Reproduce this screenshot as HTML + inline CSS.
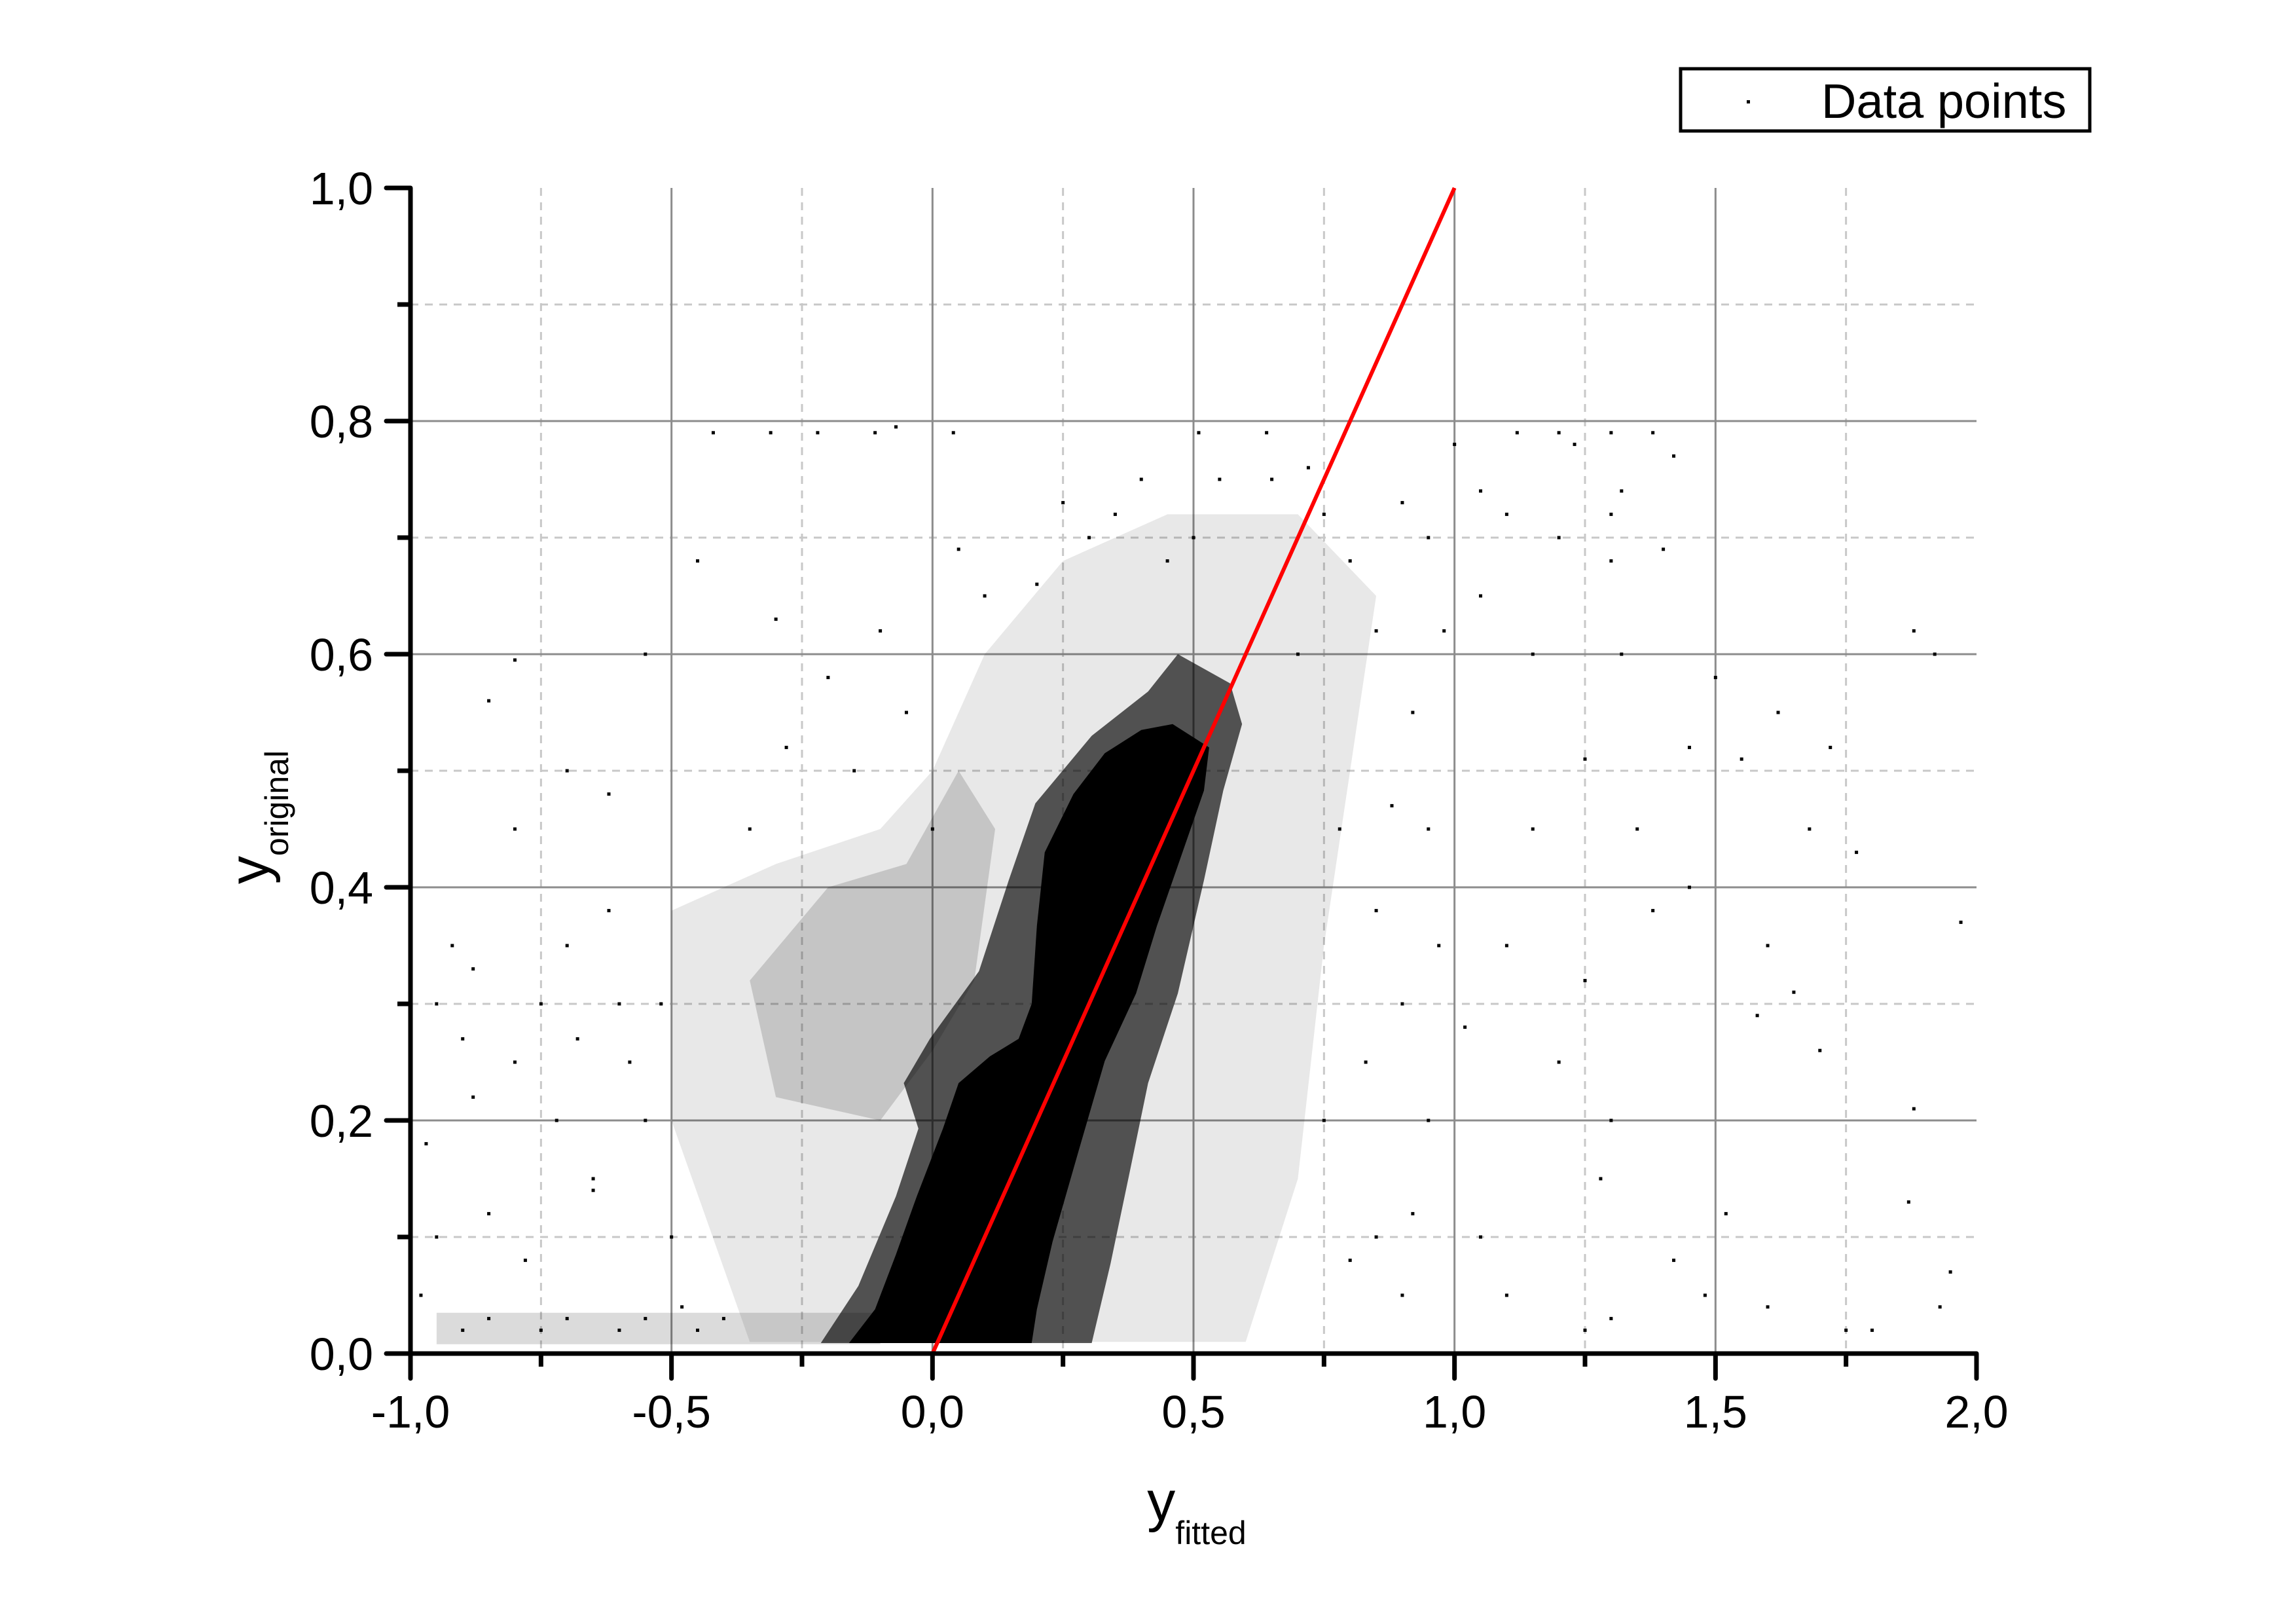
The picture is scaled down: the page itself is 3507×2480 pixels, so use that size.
<!DOCTYPE html>
<html><head><meta charset="utf-8"><style>html,body{margin:0;padding:0;background:#fff}svg{display:block}</style></head>
<body>
<svg id="chart" xmlns="http://www.w3.org/2000/svg" width="3507" height="2480" viewBox="0 0 3507 2480" font-family="Liberation Sans, sans-serif">
<rect width="3507" height="2480" fill="#fff"/>
<g id="grid"></g>
<g id="density"></g>
<g id="points"></g>
<g id="fit"></g>
<g id="axes"></g>
<text transform="translate(410,1248) rotate(-90)" text-anchor="middle" font-size="86">y<tspan font-size="50" dy="30">original</tspan></text>
<text x="1828" y="2322" text-anchor="middle" font-size="86">y<tspan font-size="50" dy="36">fitted</tspan></text>
<g>
<rect x="2567" y="105" width="625" height="95" fill="#fff" stroke="#000" stroke-width="5"/>
<rect x="2668" y="153" width="5" height="5" fill="#000"/>
<text x="2782" y="180" font-size="74">Data points</text>
</g>
</svg>
<script>
const xTicks = [-1, -0.5, 0, 0.5, 1, 1.5, 2];
const xTickLabels = ["-1,0", "-0,5", "0,0", "0,5", "1,0", "1,5", "2,0"];
const xMinor = [-0.75, -0.25, 0.25, 0.75, 1.25, 1.75];
const yTicks = [0, 0.2, 0.4, 0.6, 0.8, 1.0];
const yTickLabels = ["0,0", "0,2", "0,4", "0,6", "0,8", "1,0"];
const yMinor = [0.1, 0.3, 0.5, 0.7, 0.9];
const fitLine = [[0, 0], [1, 1]];
const coreRegion = [[-0.16,0.009],[-0.11,0.038],[-0.07,0.085],[-0.03,0.135],[0.02,0.193],[0.05,0.232],[0.11,0.255],[0.165,0.27],[0.19,0.300],[0.20,0.367],[0.215,0.43],[0.27,0.48],[0.33,0.515],[0.40,0.535],[0.46,0.54],[0.53,0.52],[0.52,0.483],[0.475,0.425],[0.43,0.367],[0.39,0.309],[0.33,0.251],[0.28,0.174],[0.23,0.096],[0.20,0.038],[0.19,0.009]];
const haloRegion = [[-0.214,0.009],[-0.142,0.058],[-0.070,0.135],[-0.027,0.193],[-0.055,0.232],[-0.005,0.270],[0.089,0.328],[0.146,0.406],[0.197,0.472],[0.305,0.530],[0.413,0.568],[0.470,0.600],[0.570,0.575],[0.593,0.540],[0.557,0.483],[0.520,0.406],[0.470,0.309],[0.413,0.232],[0.377,0.154],[0.341,0.077],[0.305,0.009]];
const fanRegion = [[-0.3,0.22],[-0.35,0.32],[-0.2,0.4],[-0.05,0.42],[0.05,0.5],[0.12,0.45],[0.08,0.32],[0.0,0.26],[-0.1,0.2]];
const lightRegion = [[-0.35,0.01],[-0.5,0.2],[-0.5,0.38],[-0.3,0.42],[-0.1,0.45],[0.0,0.5],[0.1,0.6],[0.25,0.68],[0.45,0.72],[0.7,0.72],[0.85,0.65],[0.8,0.5],[0.75,0.35],[0.7,0.15],[0.6,0.01]];
const bottomBand = [[-0.95,0.008],[-0.95,0.035],[-0.1,0.035],[-0.1,0.008]];
const pointsX = [-0.42,-0.31,-0.22,-0.11,-0.07,0.04,0.51,0.64,0.72,1.0,1.12,1.2,1.23,1.3,1.38,1.42,-0.8,
1.05,1.1,1.2,1.3,1.32,1.3,1.4,1.05,1.15,1.25,1.32,1.45,1.5,1.55,1.62,1.72,1.88,1.92,1.97,1.88,1.87,1.95,1.93,1.75,1.7,1.65,1.6,1.58,1.52,1.48,1.42,1.38,1.3,1.28,1.2,1.25,1.1,1.05,1.02,1.15,1.35,1.45,1.1,1.3,1.6,1.77,1.68,1.8,1.25,
0.65,0.75,0.9,0.95,0.85,0.92,0.95,0.85,0.9,0.95,0.85,0.9,0.8,0.75,0.7,0.8,0.98,0.88,0.83,0.92,0.97,0.78,
-0.95,-0.92,-0.88,-0.9,-0.97,-0.95,-0.85,-0.8,-0.75,-0.72,-0.7,-0.68,-0.65,-0.6,-0.62,-0.58,-0.55,-0.52,-0.5,-0.48,-0.85,-0.9,-0.75,-0.7,-0.6,-0.55,-0.45,-0.4,-0.8,-0.7,-0.62,-0.55,-0.85,-0.65,-0.78,-0.88,-0.98,-0.45,-0.3,-0.28,-0.35,-0.2,-0.1,0.1,0.05,0.2,0.25,0.35,0.4,0.3,-0.05,0.0,-0.15,0.45,0.5,0.55];
const pointsY = [0.79,0.79,0.79,0.79,0.795,0.79,0.79,0.79,0.76,0.78,0.79,0.79,0.78,0.79,0.79,0.77,0.595,
0.74,0.72,0.70,0.72,0.74,0.68,0.69,0.65,0.60,0.51,0.60,0.52,0.58,0.51,0.55,0.52,0.62,0.60,0.37,0.21,0.13,0.07,0.04,0.02,0.26,0.31,0.35,0.29,0.12,0.05,0.08,0.38,0.20,0.15,0.25,0.32,0.35,0.10,0.28,0.45,0.45,0.40,0.05,0.03,0.04,0.43,0.45,0.02,0.02,
0.75,0.72,0.73,0.70,0.62,0.55,0.45,0.38,0.30,0.20,0.10,0.05,0.08,0.20,0.60,0.68,0.62,0.47,0.25,0.12,0.35,0.45,
0.30,0.35,0.33,0.27,0.18,0.10,0.12,0.25,0.30,0.20,0.35,0.27,0.14,0.30,0.38,0.25,0.20,0.30,0.10,0.04,0.03,0.02,0.02,0.03,0.02,0.03,0.02,0.03,0.45,0.50,0.48,0.60,0.56,0.15,0.08,0.22,0.05,0.68,0.63,0.52,0.45,0.58,0.62,0.65,0.69,0.66,0.73,0.72,0.75,0.70,0.55,0.45,0.50,0.68,0.70,0.75];

const NS = 'http://www.w3.org/2000/svg';
const X0 = 627, X1 = 3019, Y0 = 2067, Y1 = 287;
function sx(v){ return X0 + (v - (-1)) / 3 * (X1 - X0); }
function sy(v){ return Y0 - v * (Y0 - Y1); }
function mk(tag, attrs, parent){ const e = document.createElementNS(NS, tag); for (const k in attrs) e.setAttribute(k, attrs[k]); parent.appendChild(e); return e; }
const grid = document.getElementById('grid'), dens = document.getElementById('density'), pts = document.getElementById('points'), fit = document.getElementById('fit'), axes = document.getElementById('axes');

xMinor.forEach(v => { const l = mk('line', {x1:sx(v), x2:sx(v), y1:Y1, y2:Y0, stroke:'#c8c8c8', 'stroke-width':3, 'stroke-dasharray':'12,10'}, grid);

 });
yMinor.forEach(v => { const l = mk('line', {x1:X0, x2:X1, y1:sy(v), y2:sy(v), stroke:'#c8c8c8', 'stroke-width':3, 'stroke-dasharray':'12,10'}, grid);

 });
xTicks.slice(1, -1).forEach(v => { const l = mk('line', {x1:sx(v), x2:sx(v), y1:Y1, y2:Y0, stroke:'#8c8c8c', 'stroke-width':3}, grid);

 });
yTicks.slice(1, -1).forEach(v => { const l = mk('line', {x1:X0, x2:X1, y1:sy(v), y2:sy(v), stroke:'#8c8c8c', 'stroke-width':3}, grid);

 });

function poly(arr, op, name){ const p = mk('polygon', {points: arr.map(d => sx(d[0]) + ',' + sy(d[1])).join(' '), fill:'#000', 'fill-opacity':op}, dens);

 }
poly(lightRegion, 0.09, 'sparse-cloud-region');
poly(fanRegion, 0.15, 'left-fan-region');
poly(bottomBand, 0.14, 'bottom-band-region');
poly(haloRegion, 0.65, 'medium-density-region');
poly(coreRegion, 1, 'dense-core-region');

pointsX.forEach((v, i) => { const r = mk('rect', {x:sx(v) - 2.5, y:sy(pointsY[i]) - 2.5, width:5, height:5, fill:'#000'}, pts);

 });

const fl = mk('line', {x1:sx(fitLine[0][0]), y1:sy(fitLine[0][1]), x2:sx(fitLine[1][0]), y2:sy(fitLine[1][1]), stroke:'#ff0000', 'stroke-width':6}, fit);



const ax = mk('path', {d:`M${X0},${Y1} V${Y0} H${X1}`, fill:'none', stroke:'#000', 'stroke-width':7, 'stroke-linejoin':'round'}, axes);


xTicks.forEach((v, i) => {
  const t = mk('line', {x1:sx(v), x2:sx(v), y1:Y0, y2:Y0 + 38, stroke:'#000', 'stroke-width':7, 'stroke-linecap':'round'}, axes);
  
  
  const tx = mk('text', {x:sx(v), y:2180, 'text-anchor':'middle', 'font-size':70}, axes);
  tx.textContent = xTickLabels[i];
  
  
});
xMinor.forEach(v => { const t = mk('line', {x1:sx(v), x2:sx(v), y1:Y0, y2:Y0 + 20, stroke:'#000', 'stroke-width':7}, axes);

 });
yTicks.forEach((v, i) => {
  const t = mk('line', {x1:X0 - 37, x2:X0, y1:sy(v), y2:sy(v), stroke:'#000', 'stroke-width':7, 'stroke-linecap':'round'}, axes);
  
  
  const tx = mk('text', {x:570, y:sy(v) + 25, 'text-anchor':'end', 'font-size':70}, axes);
  tx.textContent = yTickLabels[i];
  
  
});
yMinor.forEach(v => { const t = mk('line', {x1:X0 - 20, x2:X0, y1:sy(v), y2:sy(v), stroke:'#000', 'stroke-width':7}, axes);

 });
</script>
</body></html>
